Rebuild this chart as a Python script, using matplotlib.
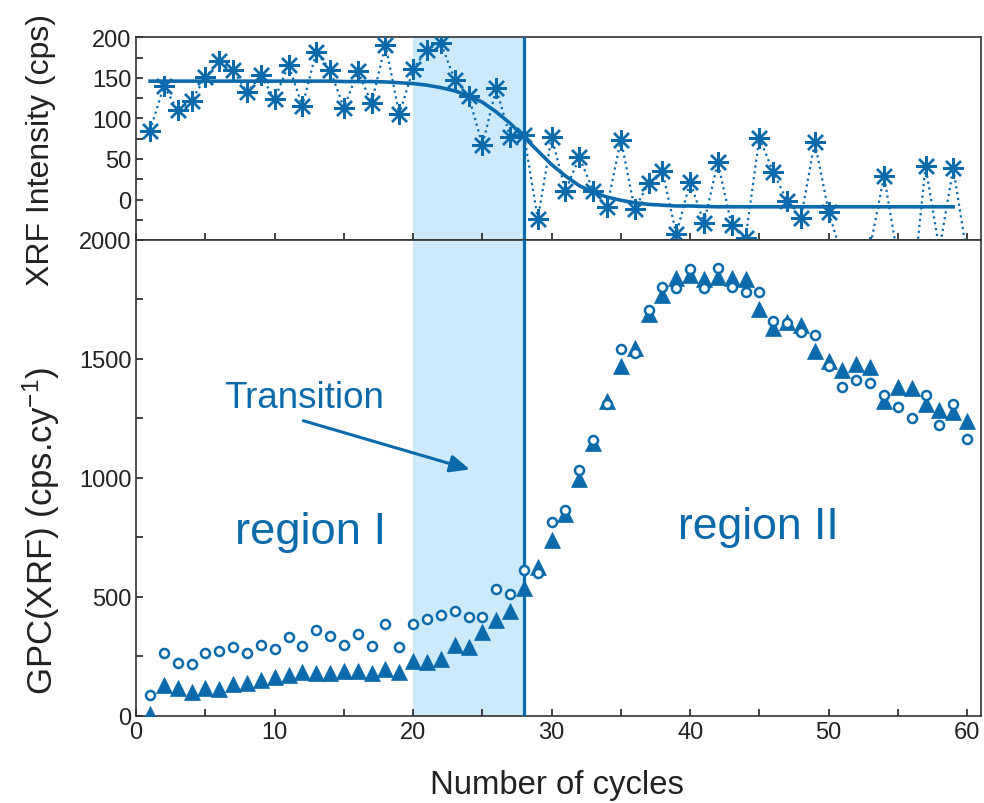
import matplotlib
matplotlib.use('Agg')
import matplotlib.pyplot as plt
from matplotlib.ticker import MultipleLocator

plt.rcParams['font.family'] = ['Liberation Sans', 'DejaVu Sans']
plt.rcParams['mathtext.fontset'] = 'custom'
plt.rcParams['mathtext.rm'] = 'Liberation Sans'
plt.rcParams['mathtext.it'] = 'Liberation Sans:italic'

# ---------------- data ----------------
cycles = list(range(1, 61))

xrf_intensity = [85, 140, 110, 122, 151, 171, 160, 132, 153, 124,
                 166, 115, 182, 160, 113, 158, 119, 191, 105, 161,
                 185, 193, 148, 128, 67, 137, 77, 80, -24, 77,
                 11, 52, 11, -9, 74, -12, 20, 35, -43, 22,
                 -29, 46, -32, -48, 76, 34, -2, -23, 71, -15,
                 -72, -80, -59, 29, -72, -125, 41, -62, 39, -70]

fit_cycles = list(range(1, 60))
fit_values = [146, 146, 146, 146, 146, 146, 146, 146, 146, 146,
              146, 146, 146, 146, 145.5, 145.5, 145.5, 145, 144, 143,
              141, 138, 134, 128, 120, 108, 94, 77, 60, 43,
              29, 17, 9, 3, -1, -4, -6, -7, -8, -8,
              -8.5, -9, -9, -9, -9, -9, -9, -9, -9, -9,
              -9, -9, -9, -9, -9, -9, -9, -9, -9]

gpc_open = [87, 265, 223, 217, 265, 273, 289, 262, 299, 280,
            330, 293, 359, 335, 296, 344, 294, 386, 287, 385,
            406, 425, 441, 413, 416, 531, 511, 613, 599, 814,
            866, 1032, 1159, 1310, 1541, 1525, 1707, 1803, 1796, 1876,
            1800, 1884, 1803, 1782, 1782, 1659, 1651, 1613, 1599, 1472,
            1383, 1411, 1398, 1348, 1299, 1251, 1348, 1221, 1310, 1162]

gpc_filled = [5, 130, 117, 101, 118, 113, 134, 138, 150, 162,
              172, 183, 180, 180, 188, 189, 178, 197, 183, 230,
              225, 240, 296, 289, 352, 401, 439, 535, 627, 739,
              850, 993, 1148, 1321, 1472, 1546, 1690, 1770, 1841, 1852,
              1834, 1845, 1838, 1835, 1711, 1631, 1655, 1641, 1532, 1490,
              1453, 1479, 1465, 1321, 1383, 1376, 1310, 1286, 1278, 1240]

transition_start = 20
transition_end = 28

# ---------------- style ----------------
BLUE = '#0a6aab'
SHADE = '#cdeafb'
SPINE = '#333333'

fig = plt.figure(figsize=(9.84, 8.04), dpi=100)
ax_top = fig.add_axes([0.1384, 0.7002, 0.8585, 0.2521])
ax_bot = fig.add_axes([0.1384, 0.1086, 0.8585, 0.5917], sharex=ax_top)

for ax in (ax_top, ax_bot):
    ax.axvspan(transition_start, transition_end, color=SHADE, lw=0, zorder=0)
    ax.axvline(transition_end, color=BLUE, lw=2.3, zorder=3)
    for s in ax.spines.values():
        s.set_color(SPINE)
        s.set_linewidth(1.2)
    ax.tick_params(which='both', direction='in', length=5, width=1.2,
                   labelsize=17, colors='#222222', top=False, right=False)
    ax.xaxis.set_major_locator(MultipleLocator(10))
    ax.xaxis.set_minor_locator(MultipleLocator(5))

# top panel
ax_top.plot(cycles, xrf_intensity, ls=':', lw=1.6, color=BLUE,
            marker=(8, 2, 0), ms=15, mew=1.7, zorder=4)
ax_top.plot(fit_cycles, fit_values, '-', lw=2.6, color=BLUE, zorder=5)
ax_top.set_ylim(-50, 200)
ax_top.yaxis.set_major_locator(MultipleLocator(50))
ax_top.yaxis.set_minor_locator(MultipleLocator(25))
ax_top.tick_params(labelbottom=False)
ax_top.set_yticks([0, 50, 100, 150, 200])

# bottom panel
ax_bot.plot(cycles, gpc_filled, ls='none', marker='^', ms=11,
            color=BLUE, mec=BLUE, mew=0.5, zorder=4)
ax_bot.plot(cycles, gpc_open, ls='none', marker='o', ms=6.5,
            mfc='white', mec=BLUE, mew=1.8, zorder=5)
ax_bot.set_ylim(0, 2000)
ax_bot.set_xlim(0, 61)
ax_bot.yaxis.set_major_locator(MultipleLocator(500))
ax_bot.yaxis.set_minor_locator(MultipleLocator(250))

ax_bot.annotate('', xy=(24.1, 1035), xytext=(12.07, 1240),
                arrowprops=dict(arrowstyle='-|>,head_length=0.5,head_width=0.22',
                                color=BLUE, lw=2.2,
                                mutation_scale=24, shrinkA=0, shrinkB=0),
                zorder=6)
ax_bot.text(12.1, 1296, 'Transition', ha='center', va='baseline',
            fontsize=26.5, color=BLUE, zorder=6)
ax_bot.text(12.56, 725, 'region I', ha='center', va='baseline',
            fontsize=32.7, color=BLUE, zorder=6)
ax_bot.text(44.9, 746, 'region II', ha='center', va='baseline',
            fontsize=32, color=BLUE, zorder=6)

fig.text(0.042, 1 - 150 / 804, 'XRF Intensity (cps)', rotation=90,
         ha='center', va='center', fontsize=23, color='#222222')
fig.text(0.042, 1 - 531 / 804, r'GPC(XRF) (cps.cy$^{-1}$)', rotation=90,
         ha='center', va='center', fontsize=25, color='#222222')
fig.text(557 / 984, 1 - 786 / 804, 'Number of cycles', ha='center',
         va='center', fontsize=23.7, color='#222222')

fig.savefig('out.png', dpi=100)
